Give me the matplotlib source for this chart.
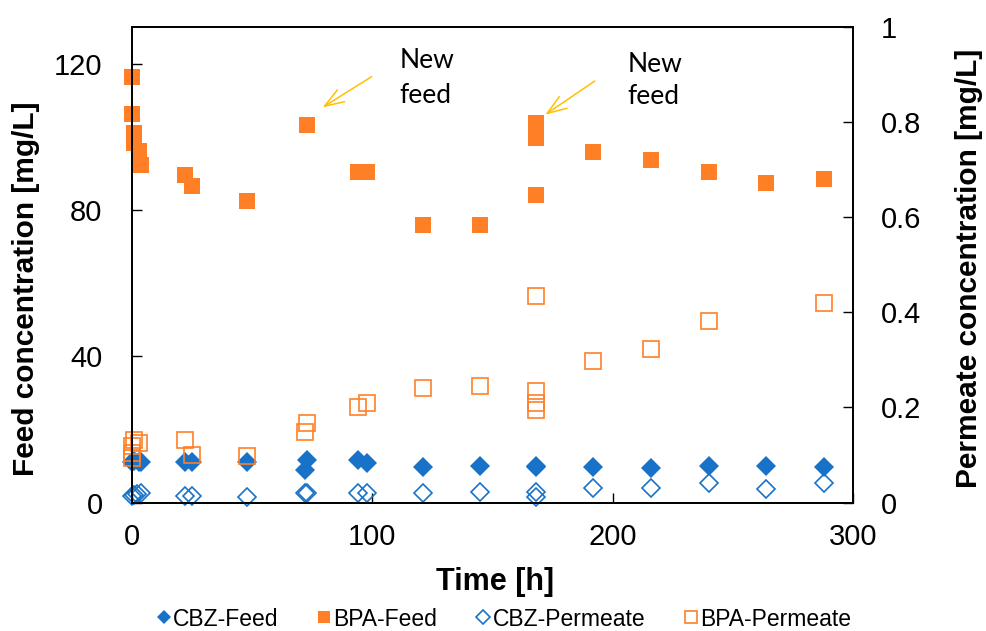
import matplotlib.pyplot as plt

# time [h] and concentrations
t_cbz_feed = [0, 1, 3, 4, 22, 25, 48, 72, 73, 94, 98, 121, 145, 168, 168, 192, 216, 240, 264, 288]
cbz_feed = [11.2, 11.3, 11.0, 11.0, 11.2, 11.2, 11.2, 8.9, 11.6, 11.6, 10.8, 9.8, 10.0, 10.0, 9.6,
            9.7, 9.5, 10.0, 10.0, 9.7]

t_bpa_feed = [0, 0, 1, 1, 3, 4, 22, 25, 48, 73, 94, 98, 121, 145, 168, 168, 168, 192, 216, 240, 264, 288]
bpa_feed = [116.5, 106.4, 101.0, 98.4, 96.1, 92.2, 89.7, 86.5, 82.6, 103.4, 90.3, 90.5, 75.8, 75.8,
            103.7, 99.6, 84.2, 95.8, 93.6, 90.5, 87.3, 88.4]

t_cbz_perm = [0, 1, 2, 4, 22, 25, 48, 72, 73, 94, 98, 121, 145, 168, 168, 192, 216, 240, 264, 288]
cbz_perm = [0.014, 0.016, 0.018, 0.020, 0.014, 0.014, 0.012, 0.020, 0.021, 0.021, 0.019, 0.021,
            0.023, 0.023, 0.012, 0.031, 0.031, 0.041, 0.028, 0.041]

t_bpa_perm = [0, 0, 0, 1, 3, 22, 25, 48, 72, 73, 94, 98, 121, 145, 168, 168, 168, 168, 192, 216, 240, 288]
bpa_perm = [0.094, 0.104, 0.118, 0.132, 0.125, 0.132, 0.100, 0.097, 0.149, 0.167, 0.202, 0.210,
            0.241, 0.246, 0.435, 0.234, 0.209, 0.195, 0.298, 0.323, 0.382, 0.420]

blue = '#1872C8'
orange = '#FF7F27'

plt.rcParams['font.family'] = ['Liberation Sans', 'DejaVu Sans']

fig = plt.figure(figsize=(9.87, 6.31), dpi=100)
ax = fig.add_axes([131.7 / 987, 1 - 502.5 / 631, (853 - 131.7) / 987, (502.5 - 27.3) / 631])
ax2 = ax.twinx()

l1, = ax.plot(t_cbz_feed, cbz_feed, 'D', ls='none', color=blue, ms=10, mew=0, clip_on=False,
              label='CBZ-Feed')
l2, = ax.plot(t_bpa_feed, bpa_feed, 's', ls='none', color=orange, ms=12, mew=0, clip_on=False,
              label='BPA-Feed')
l3, = ax2.plot(t_cbz_perm, cbz_perm, 'D', ls='none', mfc='none', mec=blue, ms=9, mew=1.2,
               clip_on=False, label='CBZ-Permeate')
l4, = ax2.plot(t_bpa_perm, bpa_perm, 's', ls='none', mfc='none', mec=orange, ms=11.5, mew=1.2,
               clip_on=False, label='BPA-Permeate')

ax.set_xlim(0, 300)
ax.set_ylim(0, 130)
ax2.set_ylim(0, 1)
ax.set_xticks([0, 100, 200, 300])
ax.set_yticks([0, 40, 80, 120])
ax2.set_yticks([0, 0.2, 0.4, 0.6, 0.8, 1])
ax2.set_yticklabels(['0', '0.2', '0.4', '0.6', '0.8', '1'])

ax.tick_params(axis='x', direction='in', length=7, width=1, labelsize=21, pad=15)
ax.tick_params(axis='y', direction='in', length=7, width=1, labelsize=21, pad=21)
ax2.tick_params(axis='y', direction='in', length=7, width=1, labelsize=21, pad=20)
for a in (ax, ax2):
    for s in a.spines.values():
        s.set_linewidth(1.3)
        s.set_color('black')

ax.set_xlabel('Time [h]', fontsize=22, fontweight='bold')
ax.xaxis.set_label_coords(0.504, -0.136)
ax.set_ylabel('Feed concentration [mg/L]', fontsize=21.5, fontweight='bold')
ax.yaxis.set_label_coords(-0.127, 0.449)
ax2.set_ylabel('Permeate concentration [mg/L]', fontsize=21.5, fontweight='bold')
ax2.yaxis.set_label_coords(1.141, 0.493)

# "New feed" notes
arrow = dict(arrowstyle='->,head_length=1.4,head_width=0.5', color='#FFC000', lw=1.1,
             shrinkA=0, shrinkB=0)
ax.annotate('', xy=(79.4, 108.1), xytext=(99.8, 116.5), arrowprops=arrow)
ax.annotate('', xy=(172, 106.1), xytext=(192.6, 115.3), arrowprops=arrow)
note = dict(fontsize=19, family=['Lato', 'DejaVu Sans'], va='baseline', ha='left')
ax.text(111.5, 119.0, 'New', **note)
ax.text(111.5, 109.2, 'feed', **note)
ax.text(206.3, 117.8, 'New', **note)
ax.text(206.3, 108.9, 'feed', **note)

fig.legend([l1, l2, l3, l4], [l.get_label() for l in (l1, l2, l3, l4)], loc='center',
           bbox_to_anchor=(504 / 987, 1 - 619 / 631), ncol=4, frameon=False, fontsize=16.5,
           markerscale=0.75, handlelength=0.6, handletextpad=0.1, columnspacing=1.7)

fig.savefig('out.png', dpi=100)
